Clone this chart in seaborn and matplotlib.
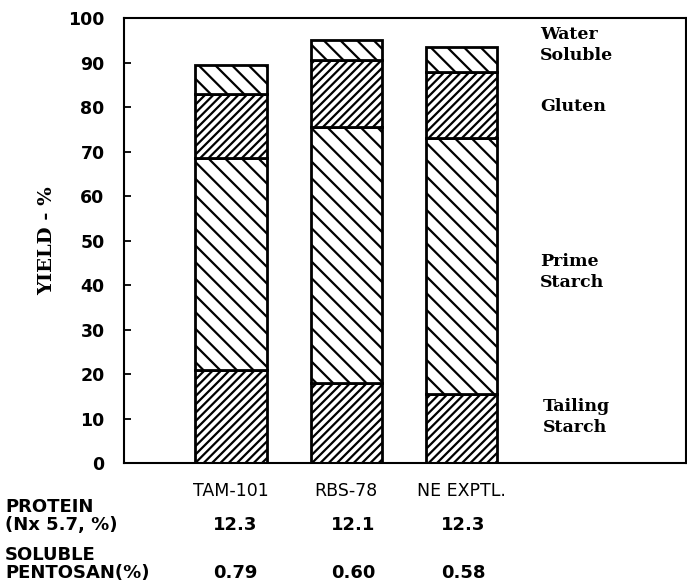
import matplotlib
matplotlib.use("Agg")
import matplotlib.pyplot as plt
import seaborn as sns
import numpy as np

# Data
varieties = ["TAM-101", "RBS-78", "NE EXPTL."]
tailing_starch = [21.0, 18.0, 15.5]
prime_starch = [47.5, 57.5, 57.5]
gluten = [14.5, 15.0, 15.0]
water_soluble = [6.5, 4.5, 5.5]
protein = ["12.3", "12.1", "12.3"]
pentosan = ["0.79", "0.60", "0.58"]

sns.set_style("white")
plt.rcParams["hatch.linewidth"] = 1.6
plt.rcParams["font.family"] = ["DejaVu Sans"]
for k in ["text.color", "axes.labelcolor", "xtick.color", "ytick.color"]:
    plt.rcParams[k] = "black"

fig = plt.figure(figsize=(6.87, 5.83), dpi=100)
ax = fig.add_axes([0.1805, 0.2058, 0.818, 0.763])

layers = [
    ("Tailing\nStarch", tailing_starch, "////"),
    ("Prime\nStarch", prime_starch, "\\\\"),
    ("Gluten", gluten, "////"),
    ("Water\nSoluble", water_soluble, "\\\\"),
]

bottom = np.zeros(len(varieties))
for name, vals, hatch in layers:
    sns.barplot(x=varieties, y=vals, bottom=bottom, ax=ax, color="white",
                edgecolor="black", linewidth=2, hatch=hatch, width=0.62,
                errorbar=None, order=varieties)
    bottom = bottom + np.array(vals)

ax.set_ylim(0, 100)
ax.set_xlim(-0.93, 3.95)
ax.set_yticks(range(0, 101, 10))
ax.set_yticklabels([str(v) for v in range(0, 101, 10)], fontsize=12.5, fontweight="bold")
ax.tick_params(axis="y", direction="in", length=5, width=1.3, left=True, pad=14)
ax.tick_params(axis="x", length=0, labelsize=12.5, pad=14)
for s in ax.spines.values():
    s.set_linewidth(1.5)
    s.set_color("black")
ax.set_ylabel("YIELD - %", fontsize=14, fontweight="bold", family="DejaVu Serif", labelpad=9)

# Component labels on the right
serif = dict(family="DejaVu Serif", fontweight="bold", fontsize=12.5, va="center", ha="left",
             transform=fig.transFigure, linespacing=1.35)
fig.text(540 / 687, 1 - 45 / 583, "Water\nSoluble", **serif)
fig.text(540 / 687, 1 - 106 / 583, "Gluten", **serif)
fig.text(540 / 687, 1 - 272 / 583, "Prime\nStarch", **serif)
fig.text(543 / 687, 1 - 417 / 583, "Tailing\nStarch", **serif)

# Table under the chart
bold = dict(fontweight="bold", fontsize=13, transform=fig.transFigure)
fig.text(5 / 687, 1 - 507 / 583, "PROTEIN", va="center", **bold)
fig.text(5 / 687, 1 - 525 / 583, "(Nx 5.7, %)", va="center", **bold)
fig.text(5 / 687, 1 - 555 / 583, "SOLUBLE", va="center", **bold)
fig.text(5 / 687, 1 - 573 / 583, "PENTOSAN(%)", va="center", **bold)
xs = [235, 353, 463]
for x, p, s in zip(xs, protein, pentosan):
    fig.text(x / 687, 1 - 525 / 583, p, ha="center", va="center", **bold)
    fig.text(x / 687, 1 - 573 / 583, s, ha="center", va="center", **bold)

fig.savefig("out.png", dpi=100)
